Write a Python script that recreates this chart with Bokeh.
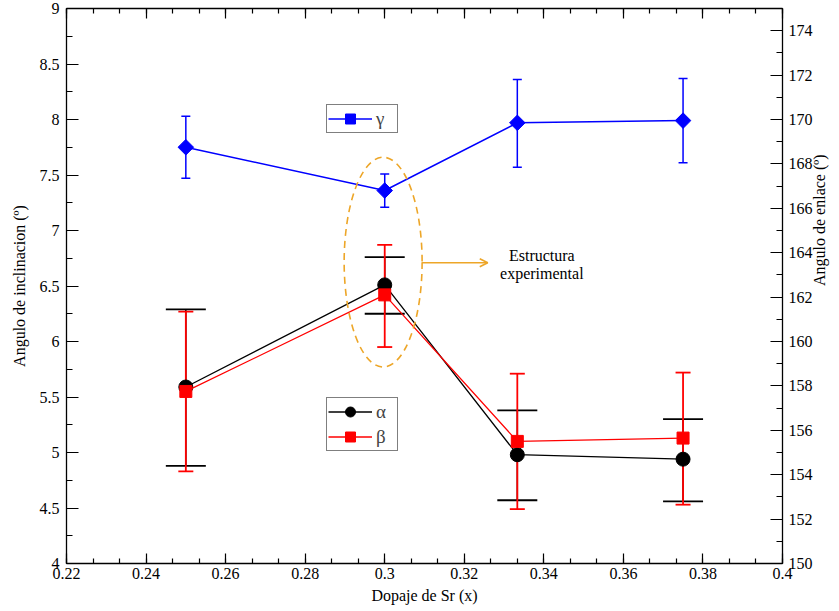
import math
from bokeh.plotting import figure
from bokeh.models import (Range1d, LinearAxis, FixedTicker, Whisker, TeeHead, ColumnDataSource,
                          Legend, LegendItem, Arrow, OpenHead, Label)
from bokeh.embed import file_html
from bokeh.resources import INLINE

# ---------------- data ----------------
x_sr = [0.25, 0.30, 1/3, 0.375]

alpha = [5.59, 6.51, 4.98, 4.94]
alpha_lo = [4.88, 6.25, 4.57, 4.56]
alpha_hi = [6.29, 6.76, 5.38, 5.30]

beta = [5.55, 6.42, 5.10, 5.13]
beta_lo = [4.83, 5.95, 4.49, 4.53]
beta_hi = [6.27, 6.87, 5.71, 5.72]

gamma = [168.75, 166.8, 169.85, 169.95]      # right axis (Angulo de enlace)
gamma_lo = [167.35, 166.05, 167.85, 168.05]
gamma_hi = [170.15, 167.55, 171.8, 171.85]

x_ticks = [0.22, 0.24, 0.26, 0.28, 0.30, 0.32, 0.34, 0.36, 0.38, 0.40]
y_ticks = [4, 4.5, 5, 5.5, 6, 6.5, 7, 7.5, 8, 8.5, 9]
y2_ticks = [150, 152, 154, 156, 158, 160, 162, 164, 166, 168, 170, 172, 174]

# annotation: highlighted experimental structure
ell_x, ell_y, ell_w, ell_h = 0.2996, 6.715, 0.0196, 1.89
arrow_x0, arrow_x1, arrow_y = 0.3094, 0.3259, 6.71
note_x, note_y1, note_y2 = 0.3395, 6.775, 6.615
note_lines = ["Estructura", "experimental"]

FONT = "Liberation Serif"
ORANGE = "#EDA628"

p = figure(width=839, height=611, x_range=Range1d(0.22, 0.40), y_range=Range1d(4, 9),
           output_backend="svg", toolbar_location=None,
           min_border_left=66, min_border_right=56, min_border_top=8, min_border_bottom=48)
p.extra_y_ranges = {"right": Range1d(150, 175)}
p.xgrid.visible = False
p.ygrid.visible = False
p.outline_line_color = None
p.background_fill_color = "white"
p.border_fill_color = "white"

x_minor = [0.22 + i * 0.02 / 3 for i in range(28)]
y_minor = [4 + i * 0.25 for i in range(21)]
y2_minor = list(range(150, 176))


def style_axis(ax):
    ax.axis_line_color = "black"
    ax.axis_line_width = 1.3
    ax.major_tick_in = 12
    ax.major_tick_out = 0
    ax.minor_tick_in = 6
    ax.minor_tick_out = 0
    ax.major_tick_line_color = "black"
    ax.minor_tick_line_color = "black"
    ax.major_tick_line_width = 1.2
    ax.minor_tick_line_width = 1.2
    ax.major_label_text_font = FONT
    ax.major_label_text_font_size = "16px"
    ax.major_label_text_color = "black"
    ax.axis_label_text_font = FONT
    ax.axis_label_text_font_size = "16px"
    ax.axis_label_text_font_style = "normal"
    ax.axis_label_text_color = "black"


xa = p.xaxis[0]
xa.ticker = FixedTicker(ticks=x_ticks, minor_ticks=x_minor)
xa.axis_label = "Dopaje de Sr (x)"
style_axis(xa)
xa.major_tick_in = 10
xa.minor_tick_in = 5
xa.major_label_standoff = 4
xa.axis_label_standoff = 5

ya = p.yaxis[0]
ya.ticker = FixedTicker(ticks=y_ticks, minor_ticks=y_minor)
ya.axis_label = "Angulo de inclinacion (º)"
style_axis(ya)
ya.major_label_standoff = 7
ya.axis_label_standoff = 9

top = LinearAxis(ticker=FixedTicker(ticks=x_ticks, minor_ticks=x_minor))
style_axis(top)
top.major_tick_in = 10
top.minor_tick_in = 5
top.major_label_text_font_size = "1px"
top.major_label_text_color = None
top.major_label_standoff = 0
p.add_layout(top, "above")

ra = LinearAxis(y_range_name="right", ticker=FixedTicker(ticks=y2_ticks, minor_ticks=y2_minor),
                axis_label="Angulo de enlace (º)")
style_axis(ra)
ra.major_label_standoff = 6
ra.axis_label_standoff = 4
ra.axis_label_orientation = math.pi / 2
p.add_layout(ra, "right")

# ---------------- error bars ----------------
src_a = ColumnDataSource(dict(x=x_sr, lo=alpha_lo, hi=alpha_hi))
src_b = ColumnDataSource(dict(x=x_sr, lo=beta_lo, hi=beta_hi))
src_g = ColumnDataSource(dict(x=x_sr, lo=gamma_lo, hi=gamma_hi))

wa = Whisker(source=src_a, base="x", lower="lo", upper="hi", line_color="black", line_width=1.5,
             upper_head=TeeHead(size=40, line_color="black", line_width=1.8),
             lower_head=TeeHead(size=40, line_color="black", line_width=1.8), level="underlay")
wb = Whisker(source=src_b, base="x", lower="lo", upper="hi", line_color="red", line_width=1.8,
             upper_head=TeeHead(size=15, line_color="red", line_width=1.8),
             lower_head=TeeHead(size=15, line_color="red", line_width=1.8), level="underlay")
wg = Whisker(source=src_g, base="x", lower="lo", upper="hi", line_color="blue", line_width=1.5,
             upper_head=TeeHead(size=9, line_color="blue", line_width=1.5),
             lower_head=TeeHead(size=9, line_color="blue", line_width=1.5),
             y_range_name="right", level="underlay")
p.add_layout(wa)
p.add_layout(wb)
p.add_layout(wg)

# ---------------- series ----------------
la = p.line(x_sr, alpha, line_color="black", line_width=1.3)
sa = p.scatter(x_sr, alpha, marker="circle", size=14, fill_color="black", line_color="black")
lb = p.line(x_sr, beta, line_color="red", line_width=1.3)
sb = p.scatter(x_sr, beta, marker="square", size=12, fill_color="red", line_color="red")
lg = p.line(x_sr, gamma, line_color="blue", line_width=1.5, y_range_name="right")
sg = p.scatter(x_sr, gamma, marker="square", angle=math.pi / 4, size=11, fill_color="blue",
               line_color="blue", y_range_name="right")

# ---------------- annotation ----------------
p.ellipse(x=[ell_x], y=[ell_y], width=ell_w, height=ell_h, fill_color=None,
          line_color=ORANGE, line_dash="7 5", line_width=1.6)
p.add_layout(Arrow(x_start=arrow_x0, y_start=arrow_y, x_end=arrow_x1, y_end=arrow_y,
                   line_color=ORANGE, line_width=1.6,
                   end=OpenHead(size=8, line_color=ORANGE, line_width=1.6)))
for txt, yy in zip(note_lines, [note_y1, note_y2]):
    p.add_layout(Label(x=note_x, y=yy, text=txt, text_align="center", text_baseline="middle",
                       text_font=FONT, text_font_size="16px", text_color="black"))

# ---------------- legends ----------------
def mk_legend(items, loc):
    lg_ = Legend(items=items, location=loc, orientation="vertical")
    lg_.border_line_color = "black"
    lg_.border_line_width = 1.2
    lg_.background_fill_color = "white"
    lg_.background_fill_alpha = 1
    lg_.label_text_font = FONT
    lg_.label_text_font_size = "19px"
    lg_.glyph_width = 44
    lg_.glyph_height = 25
    lg_.label_height = 22
    lg_.label_standoff = 4
    lg_.padding = 1
    lg_.spacing = -2
    lg_.margin = 0
    return lg_

leg_g = mk_legend([LegendItem(label="γ", renderers=[lg, sg])], (260, 430))
leg_ab = mk_legend([LegendItem(label="α", renderers=[la, sa]),
                    LegendItem(label="β", renderers=[lb, sb])], (260, 112))
p.add_layout(leg_g)
p.add_layout(leg_ab)

open("out.html", "w").write(file_html(p, INLINE))
